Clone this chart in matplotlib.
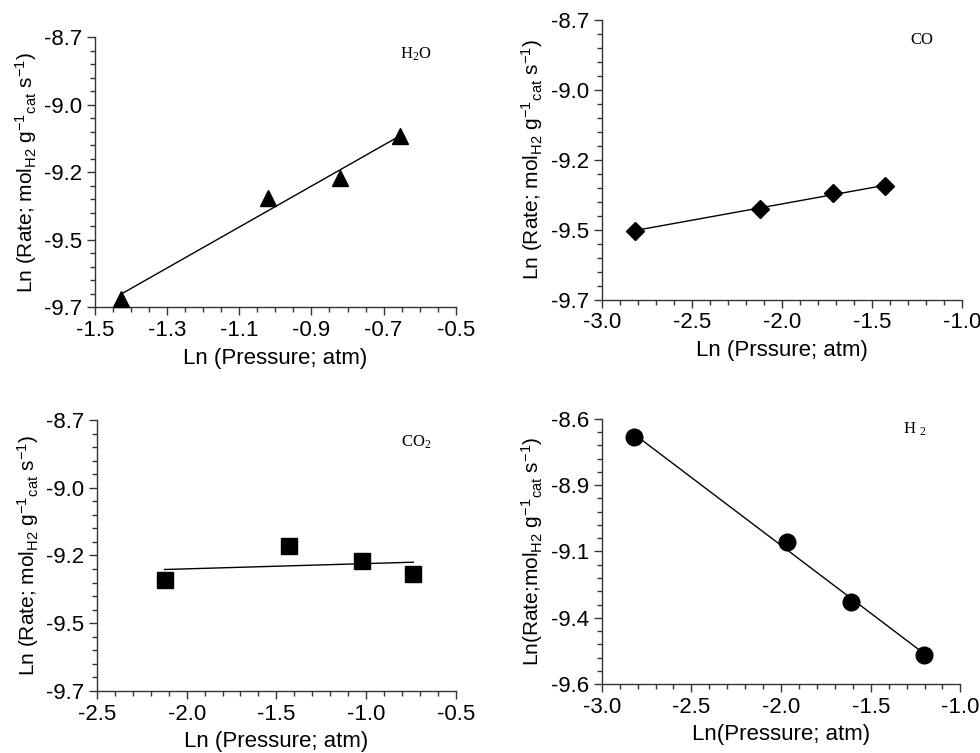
import numpy as np
import matplotlib
matplotlib.use("Agg")
import matplotlib.pyplot as plt
from matplotlib.ticker import MultipleLocator, FixedLocator, FixedFormatter

plt.rcParams["font.family"] = ["Liberation Sans", "DejaVu Sans"]
plt.rcParams["mathtext.fontset"] = "custom"
plt.rcParams["mathtext.rm"] = "Liberation Sans"
plt.rcParams["mathtext.default"] = "regular"

# H2O panel
h2o_x = [-1.428, -1.021, -0.821, -0.654]
h2o_y = [-9.668, -9.295, -9.221, -9.067]
# CO panel
co_x = [-2.818, -2.123, -1.718, -1.427]
co_y = [-9.452, -9.374, -9.319, -9.293]
# CO2 panel
co2_x = [-2.123, -1.430, -1.024, -0.736]
co2_y = [-9.291, -9.164, -9.220, -9.270]
# H2 panel
h2_x = [-2.818, -1.965, -1.609, -1.204]
h2_y = [-8.668, -9.066, -9.291, -9.489]

# tick positions / labels (labels as printed in the original figure)
xticks_h2o = [-1.5, -1.3, -1.1, -0.9, -0.7, -0.5]
xticks_co = [-3.0, -2.5, -2.0, -1.5, -1.0]
xticks_co2 = [-2.5, -2.0, -1.5, -1.0, -0.5]
xticks_h2 = [-3.0, -2.5, -2.0, -1.5, -1.0]
yticks_a = [-8.7, -8.95, -9.2, -9.45, -9.7]
ylabels_a = ["-8.7", "-9.0", "-9.2", "-9.5", "-9.7"]
yticks_b = [-8.6, -8.85, -9.1, -9.35, -9.6]
ylabels_b = ["-8.6", "-8.9", "-9.1", "-9.4", "-9.6"]

ylab = r"Ln (Rate; mol$_{H2}$ g$^{-1}$$_{cat}$ s$^{-1}$)"
ylab_h2 = r"Ln(Rate;mol$_{H2}$ g$^{-1}$$_{cat}$ s$^{-1}$)"

panels = [
    # x, y, marker, msize, rect, xticks, xminor, ylim, yticks, ylabels, xlabel, ylabel, tag, tagpos
    (h2o_x, h2o_y, "^", 12, [0.097, 0.592, 0.368, 0.3586], xticks_h2o, 0.05,
     (-9.7, -8.7), yticks_a, ylabels_a, "Ln (Pressure; atm)", ylab, r"H$_2$O", (0.89, 0.937)),
    (co_x, co_y, "D", 9, [0.614, 0.6016, 0.368, 0.372], xticks_co, 0.1,
     (-9.7, -8.7), yticks_a, ylabels_a, "Ln (Prssure; atm)", ylab, "CO", (0.888, 0.929)),
    (co2_x, co2_y, "s", 11, [0.099, 0.0823, 0.366, 0.360], xticks_co2, 0.1,
     (-9.7, -8.7), yticks_a, ylabels_a, "Ln (Pressure; atm)", ylab, r"CO$_2$", (0.891, 0.919)),
    (h2_x, h2_y, "o", 12, [0.614, 0.0916, 0.366, 0.352], xticks_h2, 0.1,
     (-9.6, -8.6), yticks_b, ylabels_b, "Ln(Pressure; atm)", ylab_h2, r"H $_2$", (0.872, 0.962)),
]

fig = plt.figure(figsize=(9.8, 7.53), dpi=100)

for (x, y, mk, ms, rect, xt, xminor, ylim, yt, yl, xlab, ylabel, tag, tpos) in panels:
    ax = fig.add_axes(rect)
    xa = np.array(x)
    ya = np.array(y)
    k, b = np.polyfit(xa, ya, 1)
    xs = np.array([xa.min(), xa.max()])
    ax.plot(xs, k * xs + b, color="black", linewidth=1.0, zorder=2)
    ax.plot(xa, ya, linestyle="none", marker=mk, markersize=ms, color="black", zorder=3,
            clip_on=False)
    ax.set_xlim(xt[0], xt[-1])
    ax.set_ylim(*ylim)
    ax.xaxis.set_major_locator(FixedLocator(xt))
    ax.xaxis.set_major_formatter(matplotlib.ticker.FormatStrFormatter("%.1f"))
    ax.xaxis.set_minor_locator(MultipleLocator(xminor))
    ax.yaxis.set_major_locator(FixedLocator(yt))
    ax.yaxis.set_major_formatter(FixedFormatter(yl))
    ax.yaxis.set_minor_locator(MultipleLocator(0.05))
    for s in ["top", "right"]:
        ax.spines[s].set_visible(False)
    for s in ["left", "bottom"]:
        ax.spines[s].set_linewidth(1.0)
        ax.spines[s].set_color("#333333")
    ax.tick_params(which="major", direction="out", length=6, width=1.0, labelsize=16,
                   colors="#333333", labelcolor="black", pad=3)
    ax.tick_params(which="minor", direction="out", length=3.5, width=1.0, colors="#333333")
    ax.set_xlabel(xlab, fontsize=16, labelpad=5)
    ax.set_ylabel(ylabel, fontsize=15, labelpad=4)
    ax.text(tpos[0], tpos[1], tag, transform=ax.transAxes, fontsize=12,
            family=["Liberation Serif", "DejaVu Serif"], math_fontfamily="stix",
            ha="center", va="center")

fig.savefig("out.png", dpi=100)
